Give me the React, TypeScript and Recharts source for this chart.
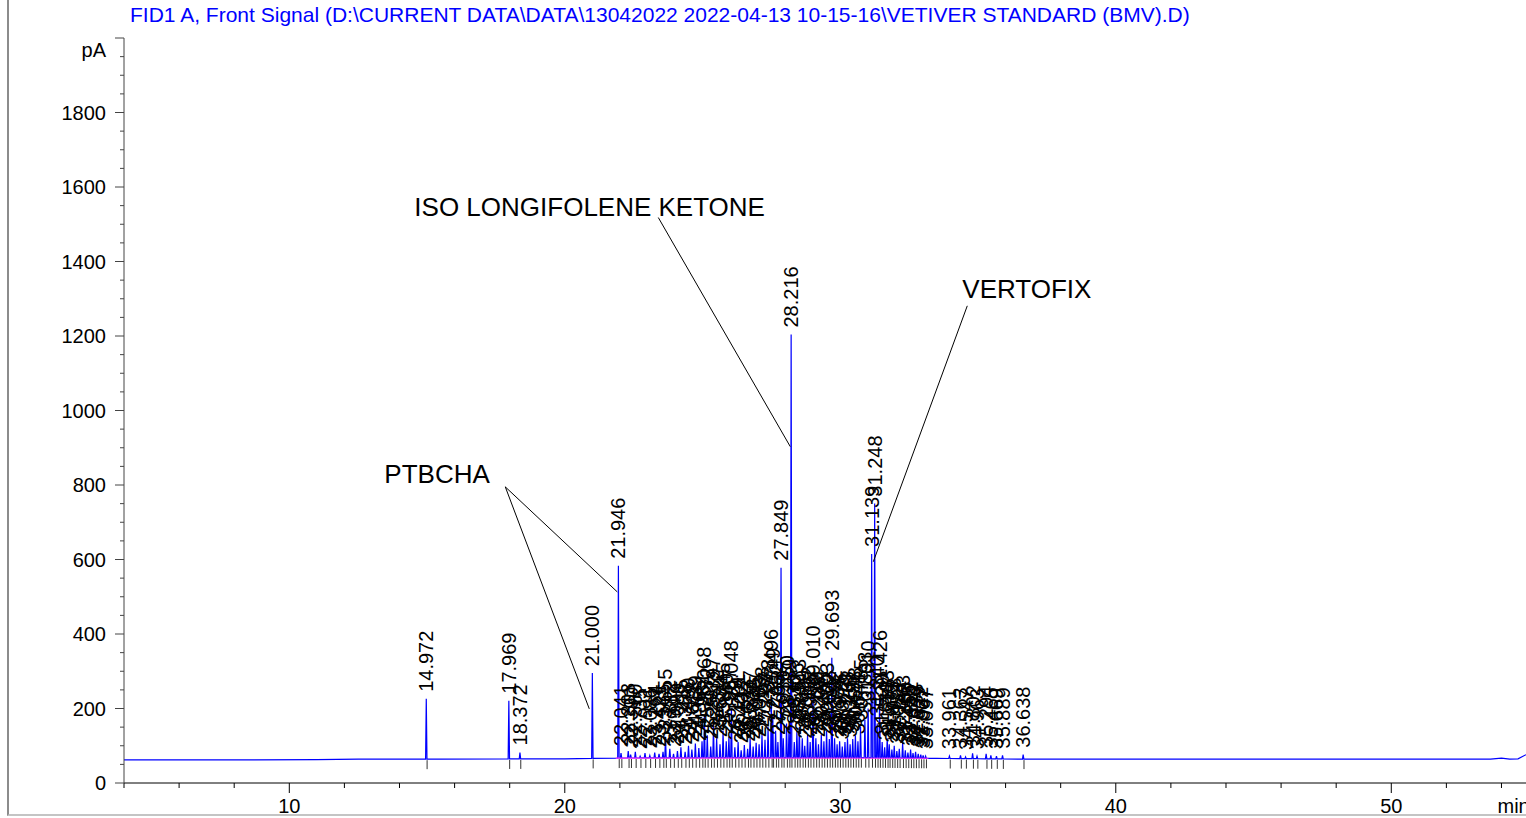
import React from 'react';
import { ComposedChart, Line, Scatter, XAxis, YAxis, ReferenceLine, ReferenceDot } from 'recharts';

const FONT = '"Liberation Sans", Arial, sans-serif';

const titleText = 'FID1 A, Front Signal (D:\\CURRENT DATA\\DATA\\13042022 2022-04-13 10-15-16\\VETIVER STANDARD (BMV).D)';

// retention times (min) of the integrated peaks
const peakTimes = [
  14.972, 17.969, 18.372, 21.0, 21.946,
  22.041, 22.303, 22.39, 22.56, 22.735, 22.911, 23.086, 23.264, 23.421, 23.565, 23.655, 23.812, 23.947,
  24.089, 24.215, 24.368, 24.49, 24.612, 24.739, 24.865, 24.981, 25.068, 25.172, 25.297, 25.397, 25.512,
  25.634, 25.745, 25.86, 25.957, 26.048, 26.173, 26.291, 26.402, 26.517, 26.637, 26.727, 26.838, 26.945,
  27.053, 27.158, 27.267, 27.378, 27.496, 27.549, 27.652, 27.735, 27.849, 27.93, 28.05, 28.139, 28.216,
  28.33, 28.425, 28.513, 28.62, 28.71, 28.812, 28.906, 29.01, 29.113, 29.208, 29.311, 29.405, 29.503,
  29.602, 29.693, 29.792, 29.884, 29.976, 30.072, 30.17, 30.262, 30.356, 30.452, 30.548, 30.641, 30.735,
  30.893, 31.01, 31.139, 31.248, 31.34, 31.426, 31.52, 31.611, 31.703, 31.777, 31.873, 31.958, 32.053,
  32.141, 32.263, 32.36, 32.455, 32.552, 32.64, 32.733, 32.829, 32.922, 33.007, 33.097,
  33.961, 34.363, 34.547, 34.802, 34.963, 35.294, 35.465, 35.669, 35.889, 36.638,
];

// apex signal (pA) of each peak
const peakHeights = [
  226, 221, 82, 295, 583,
  80, 86, 76, 84, 72, 80, 74, 82, 78, 84, 124, 92, 78,
  86, 96, 84, 100, 90, 106, 94, 112, 183, 128, 98, 155, 120,
  104, 140, 112, 124, 200, 96, 110, 88, 102, 92, 120, 98, 108,
  104, 130, 116, 150, 231, 180, 140, 110, 578, 120, 160, 150, 1204,
  110, 140, 150, 120, 100, 130, 110, 240, 120, 104, 130, 112, 140,
  118, 336, 120, 104, 112, 98, 110, 120, 104, 118, 128, 112, 150,
  170, 200, 615, 750, 160, 228, 110, 96, 120, 104, 90, 100, 86,
  92, 107, 88, 82, 90, 80, 84, 78, 76, 74, 72,
  72, 74, 70, 80, 72, 78, 74, 72, 74, 76,
];

// detector baseline (pA)
const baselineTimes = [4, 8, 11, 12.5, 15.5, 20, 22, 26, 31, 33.5, 37, 42, 47, 53.6, 54.0, 54.3, 54.6, 54.89];
const baselineValues = [62, 62, 63, 64, 64, 65, 67, 68, 68, 66, 64, 64, 64, 64, 67, 64, 65, 76];

// integration baseline (magenta)
const integrationTimes = [21.85, 33.2];
const integrationValues = [67, 66.5];

// annotations
const annotationTexts = ['ISO LONGIFOLENE KETONE', 'PTBCHA', 'VERTOFIX'];
const annotationT = [14.54, 13.45, 34.43];
const annotationV = [1547, 830, 1327];
const leaderFromT = [23.394, 17.84, 17.84, 34.61];
const leaderFromV = [1518, 795, 795, 1281];
const leaderToT = [28.185, 20.889, 21.906, 31.198];
const leaderToV = [903, 199, 513, 594];

const xTicks = [4, 6, 8, 10, 12, 14, 16, 18, 20, 22, 24, 26, 28, 30, 32, 34, 36, 38, 40, 42, 44, 46, 48, 50, 52, 54];
const yTicks = Array.from({ length: 41 }, (_, i) => i * 50);

const peakWidth = 0.025;

function baseAt(t: number): number {
  for (let i = 0; i < baselineTimes.length - 1; i++) {
    if (t >= baselineTimes[i] && t <= baselineTimes[i + 1]) {
      const f = (t - baselineTimes[i]) / (baselineTimes[i + 1] - baselineTimes[i]);
      return baselineValues[i] + f * (baselineValues[i + 1] - baselineValues[i]);
    }
  }
  return baselineValues[baselineValues.length - 1];
}

const trace: { t: number; v: number }[] = [];
baselineTimes.forEach((t, i) => {
  if (!peakTimes.some((p) => Math.abs(p - t) <= peakWidth)) trace.push({ t, v: baselineValues[i] });
});
peakTimes.forEach((p, i) => {
  trace.push({ t: p - peakWidth, v: baseAt(p - peakWidth) });
  trace.push({ t: p, v: peakHeights[i] });
  trace.push({ t: p + peakWidth, v: baseAt(p + peakWidth) });
});
trace.sort((a, b) => a.t - b.t);

const labelData = peakTimes.map((p, i) => ({ t: p, v: peakHeights[i], label: p.toFixed(3) }));
const markerData = peakTimes.map((p) => ({ t: p + 0.03, v: baseAt(p) }));
const integrationData = integrationTimes.map((t, i) => ({ t, v: integrationValues[i] }));

const YTick = (props: any) => {
  const { x, y, payload } = props;
  const v = payload.value;
  const major = v % 200 === 0;
  return (
    <g>
      <line x1={x} x2={x - (major ? 9 : 4)} y1={y} y2={y} stroke="#444" />
      {major && v < 2000 && (
        <text x={x - 18} y={y} textAnchor="end" dominantBaseline="central" fontSize={20} fontFamily={FONT} fill="#000">
          {v}
        </text>
      )}
      {v === 2000 && (
        <text x={x - 18} y={y + 12} textAnchor="end" dominantBaseline="central" fontSize={20} fontFamily={FONT} fill="#000">
          pA
        </text>
      )}
    </g>
  );
};

const XTick = (props: any) => {
  const { x, y, payload } = props;
  const v = payload.value;
  const major = v % 10 === 0;
  return (
    <g>
      <line x1={x} x2={x} y1={y} y2={y + (major ? 10 : 5)} stroke="#000" />
      {major && (
        <text x={x} y={y + 23} textAnchor="middle" dominantBaseline="central" fontSize={20} fontFamily={FONT} fill="#000">
          {v}
        </text>
      )}
      {v === 54 && (
        <text x={x - 4} y={y + 23} textAnchor="start" dominantBaseline="central" fontSize={20} fontFamily={FONT} fill="#000">
          min
        </text>
      )}
    </g>
  );
};

const PeakLabel = (props: any) => {
  const { cx, cy, payload } = props;
  if (cx == null || cy == null) return <g />;
  const y0 = cy - 7;
  return (
    <text
      x={cx}
      y={y0}
      transform={`rotate(-90 ${cx} ${y0})`}
      textAnchor="start"
      dominantBaseline="central"
      fontSize={20}
      fontFamily={FONT}
      fill="#000"
    >
      {payload.label}
    </text>
  );
};

const Marker = (props: any) => {
  const { cx, cy } = props;
  if (cx == null || cy == null) return <g />;
  return <line x1={cx} x2={cx} y1={cy + 1} y2={cy + 10} stroke="#333" strokeWidth={1} />;
};

export default function App() {
  return (
    <div style={{ position: 'fixed', left: 0, top: 0, width: 1526, height: 818, background: '#fff', overflow: 'hidden' }}>
      <div
        style={{
          position: 'absolute',
          left: 7,
          top: -4,
          width: 1530,
          height: 820,
          borderLeft: '2px solid #8c8c8c',
          borderBottom: '2px solid #c4c4c4',
          boxSizing: 'border-box',
        }}
      />
      <div
        style={{
          position: 'absolute',
          left: 130,
          top: 2,
          fontFamily: FONT,
          fontSize: 21,
          lineHeight: '26px',
          color: '#0000ff',
          whiteSpace: 'nowrap',
        }}
      >
        {titleText}
      </div>
      <div style={{ position: 'absolute', left: 0, top: 0 }}>
        <ComposedChart width={1526} height={818} margin={{ top: 38, right: 0, bottom: 0, left: 0 }}>
          <XAxis
            type="number"
            dataKey="t"
            domain={[4, 54.89]}
            ticks={xTicks}
            interval={0}
            allowDataOverflow
            height={35}
            tickSize={0}
            tickMargin={0}
            tickLine={false}
            axisLine={{ stroke: '#000' }}
            tick={<XTick />}
          />
          <YAxis
            type="number"
            dataKey="v"
            domain={[0, 2000]}
            ticks={yTicks}
            interval={0}
            allowDataOverflow
            width={124}
            tickSize={0}
            tickMargin={0}
            tickLine={false}
            axisLine={{ stroke: '#444' }}
            tick={<YTick />}
          />
          <Line
            data={trace}
            dataKey="v"
            type="linear"
            stroke="#0000ff"
            strokeWidth={1.2}
            dot={false}
            isAnimationActive={false}
          />
          <Line
            data={integrationData}
            dataKey="v"
            type="linear"
            stroke="#ff33ff"
            strokeWidth={1.2}
            dot={false}
            isAnimationActive={false}
          />
          <Scatter data={markerData} dataKey="v" shape={<Marker />} isAnimationActive={false} />
          <Scatter data={labelData} dataKey="v" shape={<PeakLabel />} isAnimationActive={false} />
          {leaderFromT.map((t, i) => (
            <ReferenceLine
              key={'l' + i}
              segment={[
                { x: t, y: leaderFromV[i] },
                { x: leaderToT[i], y: leaderToV[i] },
              ]}
              stroke="#000"
              strokeWidth={1}
            />
          ))}
          {annotationTexts.map((txt, i) => (
            <ReferenceDot
              key={'a' + i}
              x={annotationT[i]}
              y={annotationV[i]}
              r={0}
              shape={(p: any) => (
                <text x={p.cx} y={p.cy} textAnchor="start" dominantBaseline="central" fontSize={26} fontFamily={FONT} fill="#000">
                  {txt}
                </text>
              )}
            />
          ))}
        </ComposedChart>
      </div>
    </div>
  );
}
